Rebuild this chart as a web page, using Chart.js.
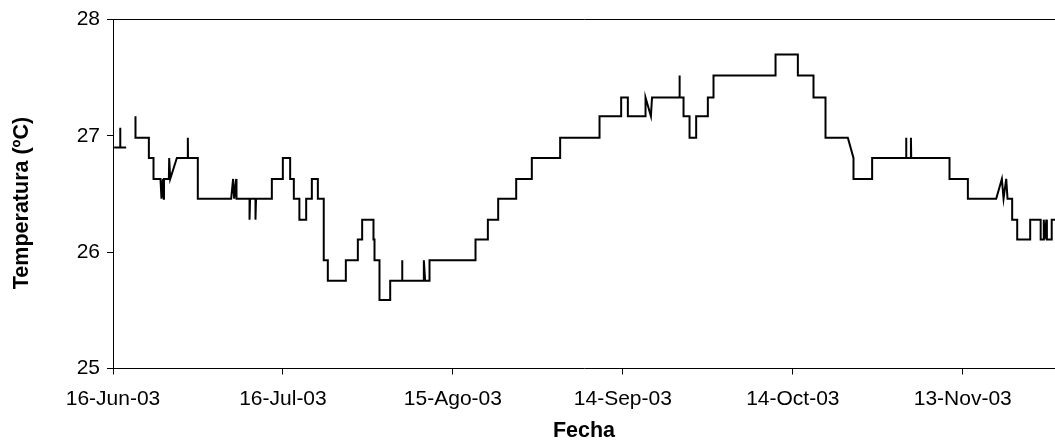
<!DOCTYPE html>
<html>
<head>
<meta charset="utf-8">
<title>Temperatura</title>
<script src="https://cdn.jsdelivr.net/npm/chart.js@4"></script>
<style>
  html, body { margin: 0; padding: 0; background: #fff; }
  canvas { display: block; }
</style>
</head>
<body>
<canvas id="grafico" width="1055" height="444"></canvas>
<script>
// Vértices de la serie: días desde el 16-Jun-03 y temperatura (ºC).
// Un null marca el tramo sin registro.
const dias = [
  0.2, 1.27, 1.27, 1.30, 2.32, 3.1,
  3.97, 3.97, 6.33, 6.33, 7.15, 7.15, 8.38, 8.56, 8.80, 8.97, 9.0,
  9.86, 9.92, 10.1, 11.27, 13.21, 13.21, 13.24, 14.97, 14.97,
  20.86, 21.2, 21.39, 21.74, 21.8, 24.1, 24.1, 24.2, 25.15, 25.15, 25.25,
  28.04, 28.04, 29.98, 29.98, 31.27, 31.27, 31.92, 31.92, 32.9, 32.9,
  34.1, 34.1, 35.1, 35.1, 36.16, 36.16, 37.2, 37.2, 37.92, 37.92,
  41.1, 41.1, 43.22, 43.22, 43.98, 43.98, 45.98, 45.98, 46.16, 46.16,
  47.04, 47.04, 48.93, 48.93, 51.04, 51.04, 51.08, 54.87, 54.87, 55.1,
  55.87, 55.87, 63.99, 63.99, 66.17, 66.17, 67.99, 67.99, 71.17, 71.17,
  73.93, 73.93, 78.93, 78.93, 85.88, 85.88, 89.7, 89.7, 90.88, 90.88,
  94.0, 94.0, 94.95, 95.15, 100.0, 100.0, 100.04, 100.71, 100.71,
  101.77, 101.77, 102.94, 102.94, 105.0, 105.0, 106.0, 106.0,
  116.95, 116.95, 120.89, 120.89, 123.65, 123.65, 125.77, 125.77,
  129.71, 130.71, 130.71, 134.0, 134.0, 140.0, 140.0, 140.05,
  140.85, 140.85, 140.9, 147.66, 147.66, 150.9, 150.9,
  155.9, 156.9, 157.2, 157.67, 157.9, 158.72, 158.72, 159.61, 159.61,
  161.9, 161.9, 163.75, 163.75, 164.3, 164.3, 164.45, 164.75, 164.85,
  165.7, 165.7, 166.3
];
const temperaturas = [
  26.9, 26.9, 27.07, 26.9, 26.9, null,
  27.17, 26.985, 26.985, 26.81, 26.81, 26.63, 26.63, 26.46, 26.63, 26.46, 26.63,
  26.63, 26.81, 26.63, 26.81, 26.81, 26.985, 26.81, 26.81, 26.46,
  26.46, 26.63, 26.46, 26.63, 26.46, 26.46, 26.28, 26.46, 26.46, 26.28, 26.46,
  26.46, 26.63, 26.63, 26.81, 26.81, 26.63, 26.63, 26.46, 26.46, 26.28,
  26.28, 26.46, 26.46, 26.63, 26.63, 26.46, 26.46, 25.93, 25.93, 25.755,
  25.755, 25.93, 25.93, 26.11, 26.11, 26.28, 26.28, 26.11, 26.11, 25.93,
  25.93, 25.59, 25.59, 25.755, 25.755, 25.93, 25.755, 25.755, 25.93, 25.755,
  25.755, 25.93, 25.93, 26.11, 26.11, 26.28, 26.28, 26.46, 26.46, 26.63,
  26.63, 26.81, 26.81, 26.985, 26.985, 27.17, 27.17, 27.33, 27.33, 27.17,
  27.17, 27.33, 27.17, 27.33, 27.33, 27.52, 27.33, 27.33, 27.17,
  27.17, 26.985, 26.985, 27.17, 27.17, 27.33, 27.33, 27.52,
  27.52, 27.70, 27.70, 27.52, 27.52, 27.33, 27.33, 26.985,
  26.985, 26.81, 26.63, 26.63, 26.81, 26.81, 26.985, 26.81,
  26.81, 26.985, 26.81, 26.81, 26.63, 26.63, 26.46,
  26.46, 26.63, 26.46, 26.63, 26.46, 26.46, 26.28, 26.28, 26.11,
  26.11, 26.28, 26.28, 26.11, 26.11, 26.28, 26.11, 26.28, 26.11,
  26.11, 26.28, 26.28
];

// Marcas del eje de fechas (cada 30 días) y del eje de temperatura
const diasEtiqueta = [0, 30, 60, 90, 120, 150];
const etiquetasFecha = ['16-Jun-03', '16-Jul-03', '15-Ago-03', '14-Sep-03', '14-Oct-03', '13-Nov-03'];
const valoresTemperatura = [25, 26, 27, 28];
const diaFinal = 166.28;

const puntos = dias.map((d, i) => ({ x: d, y: temperaturas[i] }));

const fuente = 'Liberation Sans, Arial, sans-serif';

new Chart(document.getElementById('grafico'), {
  type: 'line',
  data: {
    datasets: [{
      data: puntos,
      borderColor: '#000',
      borderWidth: 2,
      pointRadius: 0,
      tension: 0,
      spanGaps: false,
      fill: false
    }]
  },
  options: {
    responsive: false,
    animation: false,
    devicePixelRatio: 1,
    layout: { padding: { top: 16, right: 0, bottom: 0, left: 0 } },
    plugins: { legend: { display: false }, tooltip: { enabled: false } },
    scales: {
      x: {
        type: 'linear',
        min: 0,
        max: diaFinal,
        afterBuildTicks: (scale) => { scale.ticks = diasEtiqueta.map(v => ({ value: v })); },
        afterFit: (scale) => { scale.height = 75.5; },
        ticks: {
          autoSkip: false,
          maxRotation: 0,
          padding: 12,
          color: '#000',
          font: { family: fuente, size: 21 },
          callback: (v) => etiquetasFecha[diasEtiqueta.indexOf(v)]
        },
        grid: { drawOnChartArea: false, tickLength: 6, tickColor: '#000', lineWidth: 1 },
        border: { color: '#000', width: 1 },
        title: {
          display: true,
          text: 'Fecha',
          color: '#000',
          font: { family: fuente, size: 21.5, weight: 'bold' },
          padding: { top: 0, bottom: 0 }
        }
      },
      y: {
        min: 25,
        max: 28,
        afterBuildTicks: (scale) => { scale.ticks = valoresTemperatura.map(v => ({ value: v })); },
        afterFit: (scale) => { scale.width = 113; },
        ticks: {
          padding: 7,
          color: '#000',
          font: { family: fuente, size: 21 },
          callback: (v) => String(v)
        },
        grid: {
          color: (c) => (c.tick && c.tick.value === 28 ? '#000' : 'rgba(0,0,0,0)'),
          tickColor: '#000',
          tickLength: 6,
          lineWidth: 1
        },
        border: { color: '#000', width: 1 },
        title: {
          display: true,
          text: 'Temperatura (ºC)   ',
          color: '#000',
          font: { family: fuente, size: 21.5, weight: 'bold' },
          padding: { top: 9, bottom: 0 }
        }
      }
    }
  }
});
</script>
</body>
</html>
